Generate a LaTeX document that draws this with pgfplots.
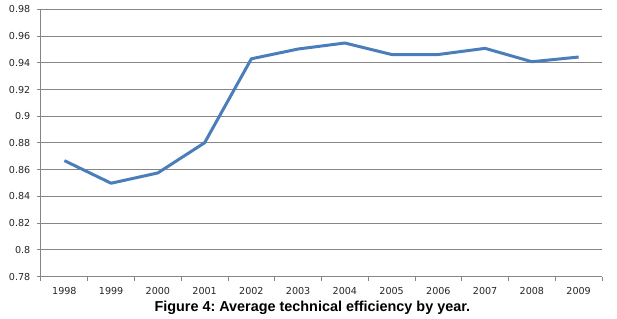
\documentclass[border=0pt]{standalone}
\usepackage{fontspec}
\setmainfont{DejaVu Sans}
\newfontfamily\capfont{Liberation Sans}
\usepackage{pgfplots}
\pgfplotsset{compat=1.18}
\usetikzlibrary{calc}
\definecolor{lineblue}{HTML}{4A7EBB}
\definecolor{gridgray}{HTML}{868686}
\frenchspacing
\begin{document}
\begin{tikzpicture}
\begin{axis}[
  scale only axis, width=420.75pt, height=200.5pt,
  xmin=-0.5, xmax=11.5, ymin=0.78, ymax=0.98,
  axis x line*=bottom, axis y line*=left,
  axis line style={draw=gridgray, line width=0.75pt, -},
  tick align=outside,
  tick style={draw=gridgray, line width=0.75pt},
  major tick length=3pt,
  ymajorgrids, grid style={gridgray, line width=0.75pt},
  ytick={0.78,0.8,0.82,0.84,0.86,0.88,0.9,0.92,0.94,0.96,0.98},
  /pgf/number format/assume math mode=true,
  /pgf/number format/fixed, /pgf/number format/precision=2,
  xtick={-0.5,0.5,...,11.5}, xticklabels={},
  extra x ticks={0,1,2,3,4,5,6,7,8,9,10,11},
  extra x tick labels={1998,1999,2000,2001,2002,2003,2004,2005,2006,2007,2008,2009},
  extra x tick style={major tick length=0pt},
  ticklabel style={font=\fontsize{7.2}{8}\selectfont, text=black!85},
  yticklabel style={xshift=-1.5pt},
  xticklabel style={yshift=-4.5pt},
]
\addplot[lineblue, line width=2.25pt, line join=round] coordinates {
  (0,0.8668) (1,0.8499) (2,0.8576) (3,0.8802) (4,0.9430) (5,0.9503)
  (6,0.9548) (7,0.9462) (8,0.9462) (9,0.9508) (10,0.9408) (11,0.9443)
};
\end{axis}
\node[font=\capfont\bfseries\fontsize{10.8}{12}\selectfont] at ($(current axis.south west)+(203.5pt,-23pt)$) {Figure 4: Average technical efficiency by year.};
\pgfresetboundingbox
\path[use as bounding box] ($(current axis.south west)+(-30.75pt,-31.7pt)$) rectangle ($(current axis.north east)+(11.25pt,7pt)$);
\end{tikzpicture}
\end{document}
